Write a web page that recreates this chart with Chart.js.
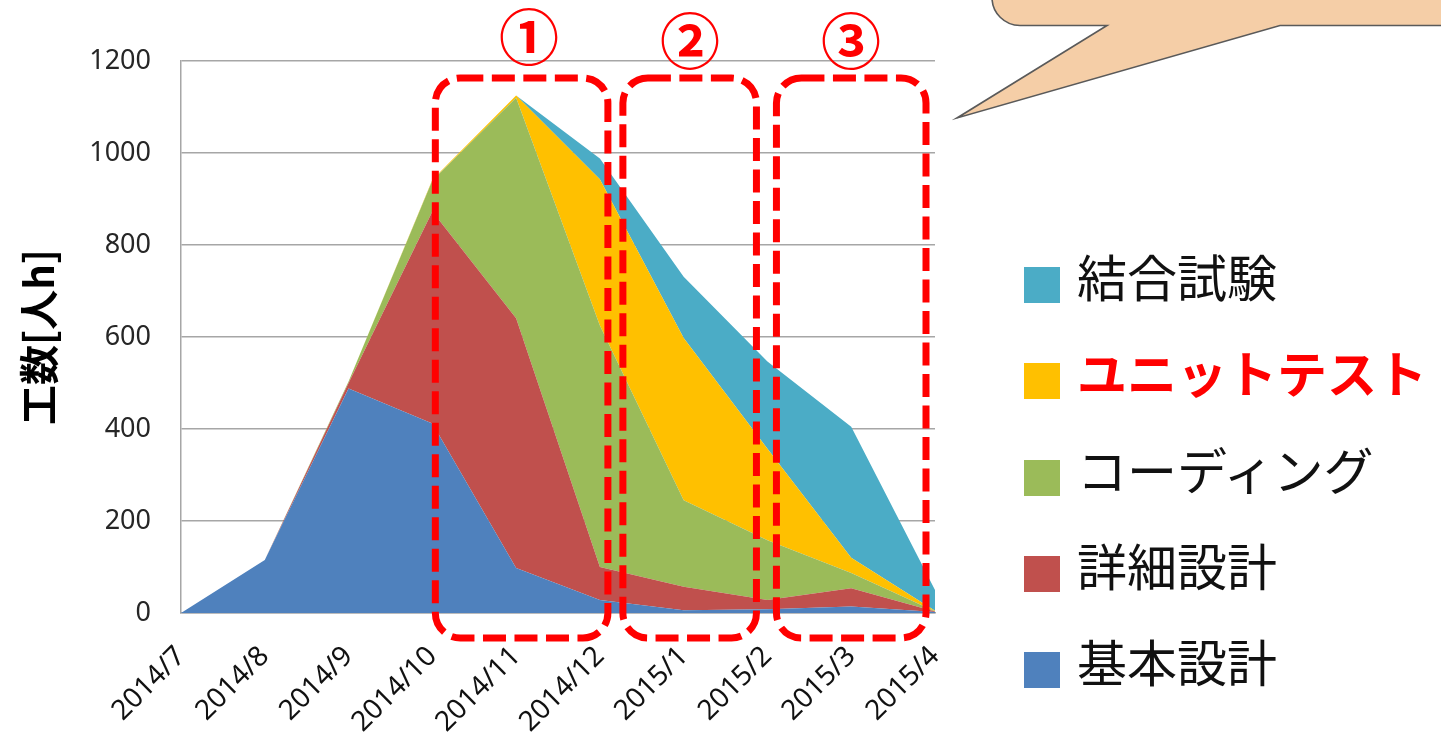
<!DOCTYPE html>
<html lang="ja">
<head>
<meta charset="utf-8">
<script src="https://cdn.jsdelivr.net/npm/chart.js@4.4.1/dist/chart.umd.min.js"></script>
<style>
  html, body { margin: 0; padding: 0; background: #fff; }
  #wrap { position: relative; width: 1441px; height: 742px; overflow: hidden; }
  #effortChart { position: absolute; left: 0; top: 0; }
  .legend-row { position: absolute; left: 1024px; height: 36px; display: flex; align-items: center; white-space: nowrap;
    font-family: 'Noto Sans CJK JP', sans-serif; font-size: 50px; color: #111; }
  .legend-row .swatch { width: 36px; height: 36px; margin-right: 17px; flex: none; }
  .legend-row span { position: relative; top: -10px; line-height: 1; }
  .legend-row.hot span { color: #ff0000; font-weight: bold; }
  .phase { position: absolute; transform: translate(-50%, -50%); line-height: 1;
    font-family: 'Noto Sans CJK JP', sans-serif; font-weight: bold; font-size: 60px; color: #ff0000; }
</style>
</head>
<body>
<div id="wrap">
  <canvas id="effortChart" width="1441" height="742"></canvas>
</div>
<script>
// months on the x axis
const months = ['2014/7', '2014/8', '2014/9', '2014/10', '2014/11', '2014/12', '2015/1', '2015/2', '2015/3', '2015/4'];

// man-hours per phase (stacked, bottom to top)
const kihonSekkei = [0, 115, 488, 412, 98, 28, 6, 8, 14, 2];      // 基本設計
const shosaiSekkei = [0, 0, 12, 461, 543, 72, 51, 20, 40, 1];     // 詳細設計
const coding = [0, 0, 3, 67, 479, 525, 188, 130, 33, 1];          // コーディング
const unitTest = [0, 0, 0, 2, 5, 318, 353, 199, 33, 1];           // ユニットテスト
const ketsugoShiken = [0, 0, 0, 0, 0, 45, 133, 190, 285, 45];     // 結合試験

const seriesNames = ['基本設計', '詳細設計', 'コーディング', 'ユニットテスト', '結合試験'];
const seriesValues = [kihonSekkei, shosaiSekkei, coding, unitTest, ketsugoShiken];
const seriesColors = ['#4f81bd', '#c0504d', '#9bbb59', '#ffc000', '#4bacc6'];

const yTicks = [0, 200, 400, 600, 800, 1000, 1200];

// build legend (top series first, like the original)
const wrap = document.getElementById('wrap');
const legendTops = [267, 363, 460, 556, 652];
seriesNames.slice().reverse().forEach((name, i) => {
  const idx = seriesNames.length - 1 - i;
  const row = document.createElement('div');
  row.className = 'legend-row' + (name === 'ユニットテスト' ? ' hot' : '');
  row.style.top = legendTops[i] + 'px';
  const sw = document.createElement('div');
  sw.className = 'swatch';
  sw.style.background = seriesColors[idx];
  const label = document.createElement('span');
  label.textContent = name;
  row.appendChild(sw);
  row.appendChild(label);
  wrap.appendChild(row);
});

// circled phase numbers above the boxes
const phaseMarks = [['①', 529, 34], ['②', 690, 38], ['③', 851, 38]];
phaseMarks.forEach(([txt, x, y]) => {
  const el = document.createElement('div');
  el.className = 'phase';
  el.textContent = txt;
  el.style.left = x + 'px';
  el.style.top = y + 'px';
  wrap.appendChild(el);
});

function roundedRect(ctx, x, y, w, h, r) {
  ctx.beginPath();
  ctx.moveTo(x + r, y);
  ctx.lineTo(x + w - r, y);
  ctx.arcTo(x + w, y, x + w, y + r, r);
  ctx.lineTo(x + w, y + h - r);
  ctx.arcTo(x + w, y + h, x + w - r, y + h, r);
  ctx.lineTo(x + r, y + h);
  ctx.arcTo(x, y + h, x, y + h - r, r);
  ctx.lineTo(x, y + r);
  ctx.arcTo(x, y, x + r, y, r);
  ctx.closePath();
}

// speech bubble + dashed phase boxes
const overlay = {
  id: 'overlay',
  afterDraw(chart) {
    const ctx = chart.ctx;
    const xs = chart.scales.x;
    const area = chart.chartArea;

    // callout in the top-right corner
    ctx.save();
    ctx.beginPath();
    ctx.moveTo(992, -40);
    ctx.lineTo(992, -2);
    ctx.arcTo(992, 25.5, 1020, 25.5, 28);
    ctx.lineTo(1107, 25.5);
    ctx.lineTo(957, 118);
    ctx.lineTo(1280, 25.5);
    ctx.lineTo(1460, 25.5);
    ctx.lineTo(1460, -40);
    ctx.closePath();
    ctx.fillStyle = '#f5cea7';
    ctx.fill();
    ctx.lineWidth = 1.6;
    ctx.strokeStyle = '#5a5a5a';
    ctx.stroke();
    ctx.restore();

    // dashed boxes: [from index, offset, to index, offset]
    const boxes = [[3, 3, 5, 8], [5, 23, 7, -11], [7, 9, 9, -9]];
    const top = area.top + 17;
    const bottom = area.bottom + 25;
    ctx.save();
    ctx.strokeStyle = '#ff0000';
    ctx.lineWidth = 7;
    ctx.setLineDash([23, 8.5]);
    boxes.forEach(([a, da, b, db]) => {
      const x1 = xs.getPixelForValue(a) + da;
      const x2 = xs.getPixelForValue(b) + db;
      roundedRect(ctx, x1, top, x2 - x1, bottom - top, 25);
      ctx.stroke();
    });
    ctx.restore();
  }
};

const ctx = document.getElementById('effortChart');
new Chart(ctx, {
  type: 'line',
  data: {
    labels: months,
    datasets: seriesValues.map((vals, i) => ({
      label: seriesNames[i],
      data: vals,
      backgroundColor: seriesColors[i],
      borderColor: seriesColors[i],
      borderWidth: 0,
      pointRadius: 0,
      tension: 0,
      fill: i === 0 ? 'origin' : '-1'
    }))
  },
  options: {
    responsive: false,
    animation: false,
    devicePixelRatio: 1,
    layout: { padding: { top: 61, right: 506, left: 0, bottom: 0 } },
    plugins: {
      legend: { display: false },
      tooltip: { enabled: false }
    },
    scales: {
      x: {
        grid: { display: false },
        border: { display: true, color: '#a6a6a6', width: 1.5 },
        ticks: {
          color: '#111111',
          font: { family: 'Noto Sans', size: 28 },
          minRotation: 45,
          maxRotation: 45,
          autoSkip: false,
          padding: 19
        },
        afterFit: (scale) => { scale.height = 129; }
      },
      y: {
        stacked: true,
        min: 0,
        max: 1200,
        afterBuildTicks: (scale) => { scale.ticks = yTicks.map(v => ({ value: v })); },
        grid: { color: '#a6a6a6', lineWidth: 1.5, drawTicks: false },
        border: { display: true, color: '#a6a6a6', width: 1.5 },
        ticks: {
          color: '#262626',
          font: { family: 'Noto Sans', size: 27 },
          padding: 30,
          callback: (v) => String(v)
        },
        title: {
          display: true,
          text: '工数[人h]',
          color: '#000',
          font: { family: 'Noto Sans CJK JP', size: 40, weight: 'bold' },
          padding: { top: 15, bottom: 0 }
        },
        afterFit: (scale) => { scale.width = 181; }
      }
    }
  },
  plugins: [overlay]
});
</script>
</body>
</html>
